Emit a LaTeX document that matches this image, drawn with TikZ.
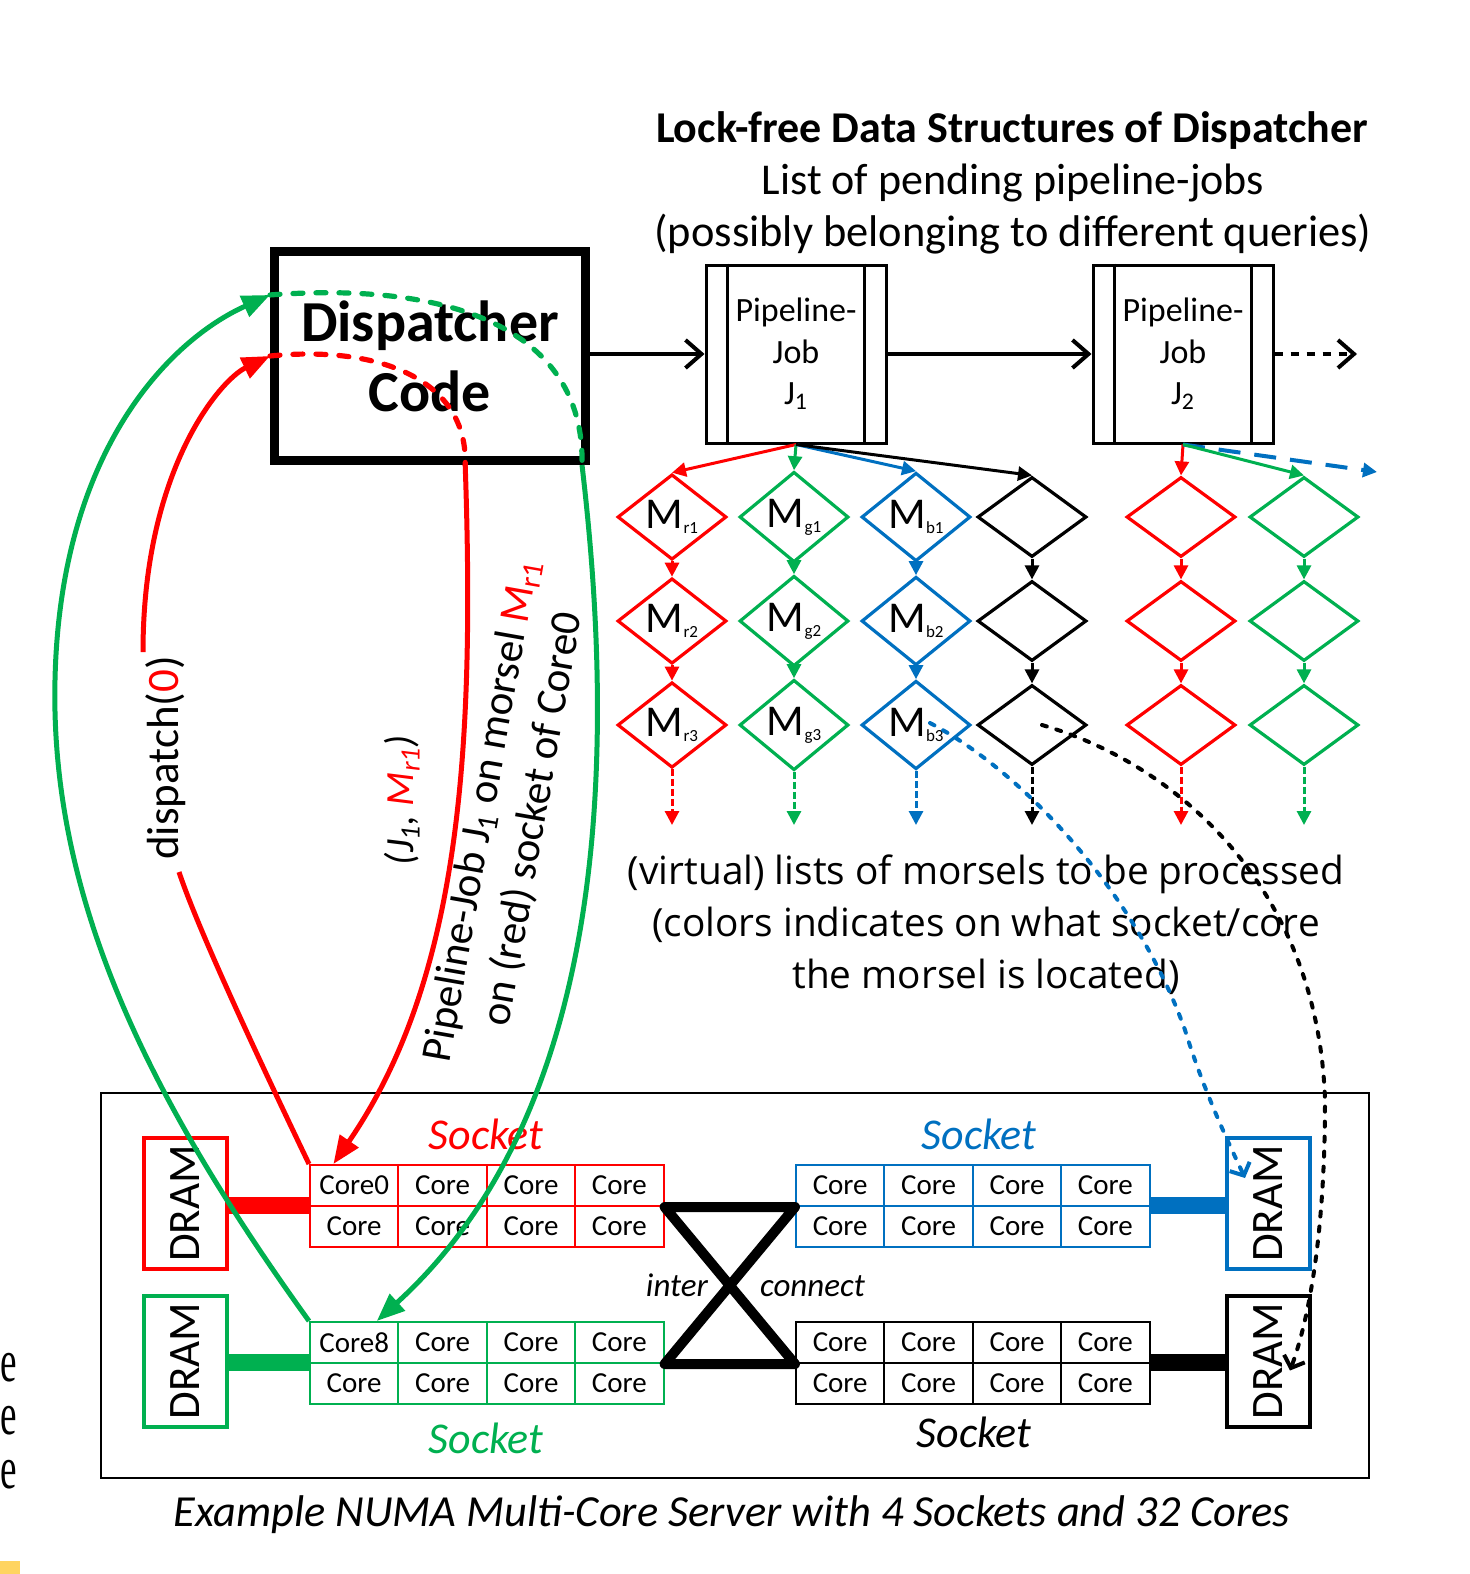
\documentclass[tikz,border=0pt]{standalone}
\usepackage{fontspec}
\setmainfont{Carlito}
\newfontfamily\osans{Open Sans}
\newfontfamily\tms{Liberation Serif}
\usetikzlibrary{arrows.meta,shapes.geometric,calc}
\definecolor{cR}{RGB}{255,0,0}
\definecolor{cG}{RGB}{0,176,80}
\definecolor{cB}{RGB}{0,112,192}
\definecolor{cY}{RGB}{255,212,96}
\newcommand{\fsz}[2]{\fontsize{#1}{#2}\selectfont}
\newcommand{\msub}[1]{\raisebox{-2.5pt}{\fsz{8.5}{9}#1}}
\begin{document}
\begin{tikzpicture}[x=0.5pt,y=-0.5pt,
  disp/.style={draw,line width=4.5pt,minimum width=155.5pt,minimum height=104.5pt,inner sep=0pt,align=center,font=\bfseries\fsz{29}{35}},
  job/.style={draw,line width=1.5pt,minimum width=90pt,minimum height=89pt,inner sep=0pt,align=center,font=\fsz{17}{20.75}},
  dia/.style={diamond,draw,line width=1.6pt,minimum width=54.5pt,minimum height=40pt,inner sep=0pt,font=\fsz{22}{22}},
  marr/.style={line width=1.5pt,-{Triangle[length=7pt,width=7pt]}},
  harr/.style={line width=2pt,-{Straight Barb[length=8pt,width=14pt]}},
  cell/.style={draw,line width=1pt,minimum width=44.2pt,minimum height=20.5pt,inner sep=0pt,font=\fsz{14.5}{14.5}},
  dram/.style={draw,line width=2pt,minimum width=41.5pt,minimum height=65.5pt,inner sep=0pt,font=\fsz{22.5}{22.5}},
  bar/.style={line width=8.5pt},
  big/.style={line width=2.5pt,-{Triangle[length=14pt,width=11pt]}},
  dsh/.style={line width=2.6pt,line cap=round,dash pattern=on 5pt off 6.5pt},
  dotc/.style={line width=2pt,line cap=round,dash pattern=on 2.5pt off 5pt,-{Straight Barb[length=5pt,width=11pt]}},
  sock/.style={font=\itshape\fsz{22}{22},anchor=base},
  mtxt/.style={font=\osans\fsz{19.4}{19.4},anchor=base}
]
\useasboundingbox (0,0) rectangle (1470,1574);

% page artifacts at the left edge
\node[anchor=base east,inner sep=0pt,font=\tms\fsz{30}{30}] (e1) at (17,1381) {\scalebox{0.62}[1]{e}};
\node[anchor=base east,inner sep=0pt,font=\tms\fsz{30}{30}] (e2) at (17,1434) {\scalebox{0.62}[1]{e}};
\node[anchor=base east,inner sep=0pt,font=\tms\fsz{30}{30}] (e3) at (17,1488) {\scalebox{0.62}[1]{e}};
\fill[cY] (0,1561) rectangle (20,1574);

% titles
\node[font=\bfseries\fsz{22}{26},anchor=base] (t1) at (1012,142) {Lock-free Data Structures of Dispatcher};
\node[font=\fsz{22}{26},anchor=base] (t2) at (1013,194) {List of pending pipeline-jobs};
\node[font=\fsz{22.2}{26},anchor=base] (t3) at (1013,246) {(possibly belonging to different queries)};

% dispatcher and jobs
\node[disp] (disp) at (430,356) {Dispatcher\\Code};
\node[job] (J1) at (796,354) {Pipeline-\\Job\\J\textsubscript{1}};
\node[job] (J2) at (1183,354) {Pipeline-\\Job\\J\textsubscript{2}};
\foreach \jj in {J1,J2}{
  \draw[line width=1.5pt] ($(\jj.north west)+(23,0)$) -- ($(\jj.south west)+(23,0)$);
  \draw[line width=1.5pt] ($(\jj.north east)+(-23,0)$) -- ($(\jj.south east)+(-23,0)$);
}
\coordinate (jend) at (1357,354);
\draw[harr] (disp.east |- J1.west) -- (J1.west);
\draw[harr] (J1.east) -- (J2.west);
\draw[harr,dash pattern=on 4pt off 4pt] (J2.east) -- (jend);

% morsel diamonds
\foreach \nm/\xx/\cl/\s in {a/672/cR/r,b/794/cG/g,c/916/cB/b}{
  \foreach \rr/\yy in {1/517,2/621,3/725}{
    \node[dia,draw=\cl] (\nm\rr) at (\xx,\yy) {M\msub{\s\rr}};
  }
}
\foreach \nm/\xx/\cl in {d/1032/black,e/1181/cR,f/1304/cG}{
  \foreach \rr/\yy in {1/517,2/621,3/725}{
    \node[dia,draw=\cl] (\nm\rr) at (\xx,\yy) {};
  }
}
\foreach \nm/\xx/\cl in {a/672/cR,b/794/cG,c/916/cB,d/1032/black,e/1181/cR,f/1304/cG}{
  \coordinate (\nm4) at (\xx,825);
  \draw[marr,color=\cl] (\nm1) -- (\nm2);
  \draw[marr,color=\cl] (\nm2) -- (\nm3);
  \draw[marr,color=\cl,dash pattern=on 3.5pt off 1.5pt] (\nm3.south) -- (\nm4);
}
\draw[marr,cR] (J1.south) -- (a1.north);
\draw[marr,cG] (J1.south) -- (b1.north);
\draw[marr,cB] (J1.south) -- (c1.north);
\draw[marr,black] (J1.south) -- (d1.north);
\draw[marr,cR] (J2.south) -- (e1.north);
\coordinate (jb) at (1377,472);
\draw[marr,cB,line width=2pt,dash pattern=on 11pt off 7pt] (J2.south) -- (jb);
\draw[marr,cG] (J2.south) -- (f1.north);

% morsel list text
\node[mtxt] (m1) at (986,884) {(virtual) lists of morsels to be processed};
\node[mtxt] (m2) at (986,936) {(colors indicates on what socket/core};
\node[mtxt] (m3) at (986,988) {the morsel is located)};

% server
\node[draw,line width=1pt,minimum width=634pt,minimum height=192.5pt,inner sep=0pt] (server) at (735,1285.5) {};

% sockets
\foreach \g/\cl/\gx/\gy in {r/cR/310/1165,b/cB/796/1165,g/cG/310/1322,k/black/796/1322}{
  \foreach \cx/\ry in {2/1,3/1,4/1,1/2,2/2,3/2,4/2}{
    \node[cell,draw=\cl] (\g\ry\cx) at ({\gx+88.4*(\cx-0.5)},{\gy+41*(\ry-0.5)}) {Core};
  }
}
\node[cell,draw=cR] (r11) at (354.2,1185.5) {Core0};
\node[cell,draw=cB] (b11) at (840.2,1185.5) {Core};
\node[cell,draw=cG] (g11) at (354.2,1342.5) {Core8};
\node[cell,draw=black] (k11) at (840.2,1342.5) {Core};

\node[sock,text=cR] (sr) at (486,1149) {Socket};
\node[sock,text=cB] (sb) at (979,1149) {Socket};
\node[sock,text=cG] (sg) at (486,1453) {Socket};
\node[sock,text=black] (sk) at (974,1447) {Socket};

% DRAMs
\node[dram,draw=cR] (dR) at (185.5,1203.5) {\rotatebox{90}{DRAM}};
\node[dram,draw=cG] (dG) at (185.5,1361) {\rotatebox{90}{DRAM}};
\node[dram,draw=cB] (dB) at (1268.5,1203.5) {\rotatebox{90}{DRAM}};
\node[dram,draw=black] (dK) at (1268.5,1361) {\rotatebox{90}{DRAM}};
\draw[bar,cR] (r21.north west -| dR.east) -- (r21.north west);
\draw[bar,cG] (g21.north west -| dG.east) -- (g21.north west);
\draw[bar,cB] (b24.north east) -- (b24.north east -| dB.west);
\draw[bar,black] (k24.north east) -- (k24.north east -| dK.west);

% interconnect
\draw[line width=5pt,line join=round,line cap=round] (r14.south east) -- (b11.south west) -- (g14.south east) -- (k11.south west) -- cycle;
\node[font=\itshape\fsz{16.5}{16.5},anchor=base east] (ic1) at (715,1296) {inter};
\node[font=\itshape\fsz{16.5}{16.5},anchor=base west] (ic2) at (753,1296) {connect};

% caption
\node[font=\itshape\fsz{22.2}{22.2},anchor=base] (cap) at (732,1526) {Example NUMA Multi-Core Server with 4 Sockets and 32 Cores};

% dispatch curves
\coordinate (dG0) at ($(disp.north west)!0.22!(disp.south west)$);
\coordinate (dRb) at ($(disp.south west)!0.61!(disp.south east)$);
\coordinate (dGb) at ($(disp.south west)!0.975!(disp.south east)$);
\coordinate (c0pt) at ($(r11.north west)!0.27!(r11.north east)$);
\coordinate (c8pt) at ($(g11.north west)!0.75!(g11.north east)$);
\coordinate (gapA) at (179,872);
\coordinate (gapB) at (143,652);

\draw[line width=2.5pt,cR] (r11.north west) .. controls (240,1020) and (195,920) .. (gapA);
\draw[big,cR] (gapB) .. controls (143,470) and (220,380) .. (disp.west);
\draw[dsh,cR] (disp.west) .. controls (380,345) and (468,380) .. (dRb);
\draw[big,cR] (dRb) .. controls (475,750) and (460,980) .. (c0pt);

\draw[big,cG] (g11.north west) .. controls (150,1100) and (50,900) .. (55,680) .. controls (60,450) and (170,340) .. (dG0);
\draw[dsh,cG] (dG0) .. controls (470,280) and (585,340) .. (dGb);
\draw[big,cG] (dGb) .. controls (612,720) and (620,1100) .. (c8pt);

% labels on the dispatch curves
\node[rotate=90,font=\fsz{22.5}{22.5}] (lab1) at (166,758) {dispatch(\textcolor{cR}{0})};
\node[rotate=90,font=\itshape\fsz{20}{20}] (lab2) at (402,800) {(J\textsubscript{1}, \textcolor{cR}{M\textsubscript{r1}})};
\node[rotate=80,align=center,font=\fsz{21.5}{26}] (lab3) at (508,815) {Pipeline-Job J\textsubscript{1} on morsel \textcolor{cR}{M\textsubscript{r1}}\\on (red) socket of Core0};

% dotted location curves
\coordinate (bst) at ($(c3)+(14,-2)$);
\coordinate (bend) at ($(dB.north west)+(20,42)$);
\coordinate (kst) at ($(d3)+(10,0)$);
\coordinate (kend) at ($(dK.north east)+(-22,77)$);
\draw[dotc,cB] (bst) .. controls (1020,770) and (1135,890) .. (1185,1030) .. controls (1205,1095) and (1232,1150) .. (bend);
\draw[dotc,black] (kst) .. controls (1180,765) and (1318,890) .. (1325,1100) .. controls (1325,1250) and (1305,1330) .. (kend);
\end{tikzpicture}
\end{document}
